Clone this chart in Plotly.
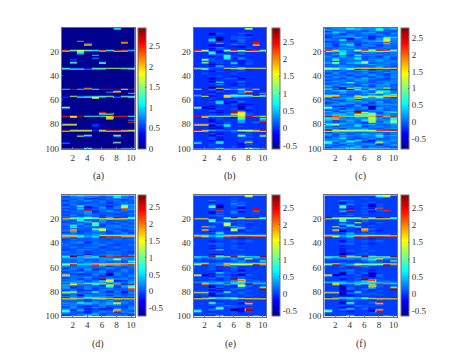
import plotly.graph_objects as go

LEVELS = dict(a=-0.75, b=-0.5, c=-0.3, d=-0.15, e=0.0, f=0.15, g=0.3, h=0.5, i=0.75, j=1.0,
              k=1.25, l=1.5, m=1.75, n=2.0, o=2.25, p=2.5, q=2.75, r=2.95)

panel_a = {
1:"eeeeeeejee", 11:"eeoeeeeeee", 12:"eeeeeeeeoe", 13:"eeehfeeeoe", 14:"eeeoeeeeee",
19:"plmlkpkrpj", 20:"eekeeeeeee", 21:"eejeeeeeee", 22:"eeieeeeeee", 23:"eeeejeeeee", 25:"eeeeieeeee",
26:"ehfeeeeeee", 27:"eheeeeeeee", 29:"eoeeemeeee",
34:"okkioorrpo", 50:"eeeoeeeeee", 51:"jqjikqqrmq", 53:"eeeeeeioee", 54:"eeeeeeeeej",
57:"hrklmoqipn", 58:"eeeemeeeee", 66:"meeeeeeeee", 70:"eeeeeqeeee", 71:"eeeeeoqeee",
73:"pnqkkknppk", 74:"emeeeeneee", 75:"eeeeeeneee", 76:"eeeeeeeeei", 78:"eeeeeeeeep",
80:"nneehfeeee", 81:"eeeehfeeee", 85:"rnnnhnqqon", 89:"eeqleeeneee", 95:"ieeeeeepee",
100:"eeeneeeekk",
}

panel_b = {
1:"eeeeeeekee", 5:"eecfeeffee", 6:"eebeeeecee", 7:"eefeefeeee", 8:"eecceegfee", 9:"eefbefeeee",
10:"eeiaeegeee", 11:"eegeeceeee", 12:"eefeeegepe", 13:"eeeneecepe", 14:"eeceegfeoe", 15:"eedceddeee",
16:"eefgeeceee", 17:"eecfeeefee", 18:"eeeffeceee", 19:"pldekpkrpk", 20:"eeiceefeee", 21:"eejeeefeee",
22:"eehfeegeee", 23:"eeefjeceee", 24:"eedeifeeee", 25:"eefeidgeee", 26:"ekeehegeee", 27:"ejffeecfee",
29:"enefeidfee", 30:"eecdefefee", 31:"eeegeeceee", 32:"eechefeeee", 33:"eeffeegeee",
34:"okeeqonqpp", 36:"eecfeefeee", 38:"efeeefeeee", 40:"eeefeceeee", 42:"eeceffdeee", 44:"eebfeefeee",
45:"eecieegeee", 46:"eefceeceee", 47:"eeegedfeee", 49:"eeacefeeee", 50:"eebmeeffee",
51:"kqgdjhmpmq", 52:"eefeeegeee", 53:"eecfeegoee", 54:"eeeceegeeh", 55:"eefeegeeee",
56:"hrdemkkkrn", 57:"eeeemgfeee", 59:"eefceedeee", 60:"eecfefeeee", 61:"eefhecgeee", 62:"eeeideeeee",
63:"eeefefcdee", 65:"eebeeebeee", 66:"mbeeeeafee", 67:"eecfefceee", 68:"eefdeeedee", 69:"eefeepgeee",
70:"eedceqmeee", 71:"eeeeeolfee", 72:"eefefglfee", 73:"pnikkkmpnl", 74:"emeeedjeee", 75:"eeefeejeei",
76:"eeceeeheeg", 77:"eebeeegeeo", 78:"eedefehegq", 79:"eefceefeee", 80:"nnefhedeee", 81:"eebeiefeee",
82:"eeeceeeeee", 83:"eebceeeeee", 85:"qnhgfgllnq", 86:"eecdefdfee", 87:"eefeeefeee", 88:"eeeceeffee",
89:"eecfeemeen", 90:"eefdeeefee", 92:"eegbeefeee", 93:"eedceeefee", 94:"eeeheeffee", 95:"ieeieedpee",
96:"eefeeecfee", 98:"eefeefdeee", 100:"eeejeeeoie",
}

panel_c = {
1:"effhgffhfg", 2:"gefefefiee", 3:"cfeeedefed", 4:"ehgdefgdee", 5:"ffdeefeedf", 6:"dedfeeefee",
7:"eegfdecdee", 8:"cfeghfdehh", 9:"eedbfecfjf", 10:"feieefefkf", 11:"deedefghke", 12:"ddffdeedof",
13:"feeoedffhe", 14:"edghcfedfe", 15:"fdefeefdee", 16:"eefeefdefe", 17:"defgeedeed",
18:"ffeefegfef", 19:"pmgfkokqoj", 20:"fehedeffee", 21:"dehfegfdef", 22:"egieedefee", 23:"eefdjffeef",
24:"fdgefeedfe", 25:"egefhdeefd", 26:"eheeheffee", 27:"ejefedegfe", 28:"edeefiffef", 29:"gleghkdefe",
30:"dfdefegfee", 31:"fegedfeefe", 32:"deefedeged", 33:"gfgeefefee", 34:"llgkqpqqop",
35:"edeefgdfee", 36:"fefdeefedf", 37:"efdeefdegf", 38:"dfefefeede", 39:"feedfegedf",
40:"eefeddefee", 41:"dgefefdfeg", 42:"fedfegfede", 43:"defegfddef", 44:"egedefefee",
45:"fefiefdegf", 46:"defgedfeef", 47:"efdeegefgd", 48:"gegfdedfee", 49:"edceifefge",
50:"ffbkfgfgjf", 51:"mpccjqmpqq", 52:"eghfggfgge", 53:"fefedfdjhf", 54:"degfefhjfe", 55:"feddeffegj",
56:"hjfegegfhg", 57:"npefnlnlop", 58:"efghlgfgfe", 59:"dfefdeffee", 60:"fdeggefdef",
61:"efdeffegde", 62:"deggefdfee", 63:"egfdedefgf", 64:"fefegcefdf", 65:"edbdfebdfe", 66:"kefeefagee",
67:"ffcfefbfef", 68:"deggedffde", 69:"gdfeqdefgf", 70:"ffdgqlfdgi", 71:"efgfohjdfe", 72:"ghgfhijgff",
73:"qomijkmpmp", 74:"gmfegfjffg", 75:"hnfeffkfeh", 76:"gdfgehjffi", 77:"fedfegjdfl", 78:"edefedkegj",
79:"gfgfedeffh", 80:"ikfegfgeef", 81:"fdefhdefef", 82:"efgeeeffee", 83:"gedfefedfg", 84:"efefggefee",
85:"qllkkkkppq", 86:"dfefeefdee", 87:"efgdefegef", 88:"gdeefgffde", 89:"fegfeffifg", 90:"defeefegee",
91:"eghfdefeef", 92:"fdfbeefdee", 93:"egefhfcfeg", 94:"hfeifbdgfe", 95:"idgeefenfe", 96:"ffdgefgdef",
97:"edeeffedfg", 98:"fefegdefde", 99:"defggefefd", 100:"egeheefgef",
}

panel_d = {
1:"efgffefhfe", 2:"efefeeeiff", 3:"fefddefefe", 4:"eefefdeedf", 5:"dfegefefee", 6:"feedefdefe",
7:"efdffedfee", 8:"dfefeefdhg", 9:"eeiefecfkf", 10:"fefbdgefjf", 11:"deheefefof", 12:"fdfdfeedog",
13:"efeocfgefe", 14:"defgdeffee", 15:"feefeedeef", 16:"dfeffefdee", 17:"efdeedefee",
18:"fefgeefedf", 19:"pmilkpnqok", 20:"eehedfgffe", 21:"feifegdeee", 22:"defhefeeef", 23:"efefjfefee",
24:"fdgdieedfe", 25:"ejefidfgef", 26:"egefeefeee", 27:"ejfeefegfe", 28:"edeejkfdef", 29:"fneefkefde",
30:"egdefedfee", 31:"dfefefeefd", 32:"fedegfdefe", 33:"gggffggggg", 34:"nnighrqqnn", 35:"fefegeffee",
37:"dfeefedfef", 39:"efgdfefeee", 41:"fedefgedef", 43:"efeffdefee", 45:"degfefedfe", 47:"fefdeeffed",
49:"effbefgfef", 50:"gdcmfeffeg", 51:"irhfiqoppq", 52:"ggfhggffgg", 53:"eefdefglfe", 54:"fegfeffeeh",
55:"efeefgdfej", 56:"fefgeeffef", 57:"krhhomnnoq", 58:"gfeeogfgfg", 59:"fegfefdeee", 60:"dfeefegedf",
61:"efegdefefe", 62:"fedfefdefe", 63:"defefgeefe", 64:"efgeefdfee", 65:"fdbefebfee", 66:"meedfeafef",
67:"ffefedfeef", 68:"defgefedfe", 69:"efdedqggfe", 70:"fedfeqmeff", 71:"efgdfhlcdf", 72:"ggfgggggfg",
73:"qmnkkmonqo", 74:"hlfdhfjfee", 75:"feefedjegi", 76:"gdefefgdfj", 77:"feefdeefeo", 78:"efcfefgdeo",
79:"dfecefdfee", 80:"mmegiecfbf", 81:"fefdeffeef", 82:"efcgefefee", 83:"dfbefedfef", 84:"gffgfggfff",
85:"rnojmnoqpq", 86:"efdcefdfee", 87:"fefefegeef", 88:"defdfefefe", 89:"gfihgfglfe", 90:"efefefgfee",
91:"gfeeegcfef", 92:"dfdbeefdde", 93:"egefgfcfeg", 94:"fefcdbdfef", 95:"idgeefenfe", 96:"ifeceffofe",
97:"feddffedfg", 98:"fefegdefde", 99:"defggefefd", 100:"egfjeefgef",
}

panel_e = {
1:"eeeeeeekee", 3:"eeeeefeeee", 5:"eegeefeeee", 6:"eebeeefeee", 7:"eefeeheeee", 8:"eefdeefeee",
9:"eeibefgeee", 10:"eejaeeaeee", 11:"eedeeecepe", 12:"eefeeegepe", 13:"eeeoefdeoe", 14:"eeceegdefe",
15:"eedfefeeee", 17:"eefgeeeeee", 19:"ppcekqmrpk", 20:"eeieefeeee", 21:"eejeedeeee", 22:"eeifeffeee",
23:"eeefjeefee", 24:"eedeleedee", 25:"eefekefeee", 26:"emgeeheeee", 27:"eefeeejefe", 28:"eeeedkfeee",
29:"eoeeekcfee", 30:"eedfeeeeee", 31:"eefieeeeee", 32:"eecheefeee", 33:"gggggggggg", 34:"omgioprqpp",
36:"eeefeedeee", 38:"eedeefefee", 40:"eefgeeceee", 42:"eedfefeeee", 44:"eeceefeeee", 45:"eefieefeee",
49:"eeaceefeee", 50:"eefmefgeee", 51:"ihqikqkiiq", 52:"gfggfgffgg", 53:"eeefegeoee", 54:"eeeeefgeej",
55:"eedeeegeeg", 56:"ggffgggggg", 57:"krfgnlllrn", 58:"eeeonefeee", 59:"eefdegdeee", 61:"eefeefeeee",
62:"eeedeeceee", 64:"eeeifefeee", 65:"eebfefaeee", 66:"mbeeedbfee", 67:"eedgfefeee", 68:"eefdeefeee",
69:"eefefqfeee", 70:"eeddeplfee", 71:"eefefgoefe", 72:"ghghghhggg", 73:"qmhhpinqnh", 74:"eoeehejeee",
75:"eebeedlfee", 76:"eecfeeeeej", 77:"eefbefgeeq", 78:"eebfefdeeq", 79:"eedceeefee", 80:"oofejefeee",
81:"eebfeefeee", 82:"efdeefeeee", 83:"eebceeefee", 85:"qomijkoppq", 86:"eedeefdeee", 88:"eefceefeee",
89:"eejfeecoee", 91:"eefegfefee", 92:"eecgeefdee", 93:"eeejefcfee", 94:"eefieadpee", 95:"iefdeacqee",
96:"ieceefdfee", 98:"eefeefeeee", 100:"eeekeefeie",
}

panel_f = {
1:"eeeeeeeike", 3:"eeeeefeeee", 5:"eegfeeeeee", 6:"eebeeefeee", 7:"eedfefceee", 8:"eefgeedfee",
9:"eejdeeaeee", 10:"eeieefefee", 11:"eefdeecoee", 12:"eebeeegepe", 13:"eehoefcfoe", 14:"eegdeedeee",
15:"eecfefeeee", 17:"eefgeeeeee", 18:"eeddefeeee", 19:"qmlllpmrpk", 20:"eeieefeeee", 21:"eeieefeeee",
22:"eeifefeeee", 23:"eebeleefee", 24:"eeheeedeee", 25:"eeejeefeee", 26:"ekdfjeeeee", 27:"eehefeeeee",
28:"eeeedmfeee", 29:"enceenedee", 30:"eeaeefeeee", 31:"eefgeefeee", 32:"eechefeeee", 33:"ggggggggge",
34:"plgipoqqpp", 36:"eeefeedeee", 38:"eecfefefee", 40:"eefgeeceee", 42:"eedeefeeee", 44:"eeceefeeee",
46:"eecfeefeee", 48:"eebdefeeee", 49:"eeaefeeeee", 50:"eefneegeee", 51:"jiqjkqkjjq", 52:"hghgghgghh",
53:"eeefegioee", 54:"eeeeefgeej", 55:"eedeeeffeg", 56:"eegefeffee", 57:"krfhlkkkrn", 58:"eeeooefeee",
59:"eefdegeeee", 62:"eefgeedeee", 64:"eeafefceee", 65:"eeafefaeee", 66:"mbcefdbfee", 67:"eefeeecfee",
69:"eedefqeeee", 70:"eebeeqnfee", 71:"eefefhoefe", 72:"hihghhhhgg", 73:"qmhhnjnoni", 74:"emeehejeee",
75:"eebeeenfee", 76:"eecfeegeej", 77:"eeafefgeeq", 78:"eebfefceeq", 79:"eedceeefee", 80:"ooceieeeee",
81:"eecfeefeee", 82:"eebdefefee", 83:"eedceeeeee", 85:"qoiihkoppq", 86:"eedfeedfee", 88:"eecfeefeee",
89:"eecjeefoee", 91:"eefegfefee", 92:"eedceefdee", 93:"eecfefcfee", 94:"eefhefeeee", 95:"jefdeecpee",
96:"jebceedpee", 97:"eefeeefeee", 100:"eegmeefeie",
}

panels = [panel_a, panel_b, panel_c, panel_d, panel_e, panel_f]
letters = ["(a)", "(b)", "(c)", "(d)", "(e)", "(f)"]
z_ranges = [(0, 2.95), (-0.6, 2.9), (-0.8, 2.8), (-0.75, 2.85), (-0.65, 2.85), (-0.65, 2.85)]
cb_ticks = [[0, 0.5, 1, 1.5, 2, 2.5], [-0.5, 0, 0.5, 1, 1.5, 2, 2.5], [-0.5, 0, 0.5, 1, 1.5, 2, 2.5],
            [-0.5, 0, 0.5, 1, 1.5, 2, 2.5], [-0.5, 0, 0.5, 1, 1.5, 2, 2.5], [-0.5, 0, 0.5, 1, 1.5, 2, 2.5]]
x_ticks = [2, 4, 6, 8, 10]
y_ticks = [20, 40, 60, 80, 100]

PAGE_OFFSET = 8
W, H = 469 - PAGE_OFFSET, 359 - PAGE_OFFSET
ax_left = [54, 186, 317]
ax_w = 73
cb_left = [130, 265, 394]
cb_w = 8
row_top = [20, 190]
ax_h = 123

JET = [[0, "rgb(0,0,143)"], [0.125, "rgb(0,0,255)"], [0.375, "rgb(0,255,255)"],
       [0.625, "rgb(255,255,0)"], [0.875, "rgb(255,0,0)"], [1, "rgb(128,0,0)"]]
FONT = dict(family="Liberation Serif", size=9, color="#333333")
FRAME = "#707070"

def build_z(panel, n_rows=100, n_cols=10):
    z = []
    for r in range(1, n_rows + 1):
        row = panel.get(r, "e" * n_cols)
        row = row.ljust(n_cols, "e")[:n_cols]
        vals = []
        for c in row:
            vals += [LEVELS[c], LEVELS[c]]
        z.append(vals)
    return z

x_edges = []
for col in range(1, 11):
    x_edges += [col - 0.42, col + 0.42]

fig = go.Figure()
layout = {}
annotations = []
for i, panel in enumerate(panels):
    c, r = i % 3, i // 3
    n = "" if i == 0 else str(i + 1)
    x0 = ax_left[c] / W
    x1 = (ax_left[c] + ax_w) / W
    y1 = 1 - row_top[r] / H
    y0 = 1 - (row_top[r] + ax_h) / H
    layout["xaxis" + n] = dict(domain=[x0, x1], range=[0.5, 10.5], tickvals=x_ticks, ticks="inside", ticklen=1.5,
                               tickcolor=FRAME, showline=True, mirror=True, linecolor=FRAME, linewidth=1,
                               showgrid=False, zeroline=False, tickfont=FONT, anchor="y" + n)
    layout["yaxis" + n] = dict(domain=[y0, y1], range=[100.5, 0.5], tickvals=y_ticks, ticks="inside", ticklen=1.5,
                               tickcolor=FRAME, showline=True, mirror=True, linecolor=FRAME, linewidth=1,
                               showgrid=False, zeroline=False, tickfont=FONT, anchor="x" + n)
    zmin, zmax = z_ranges[i]
    fig.add_trace(go.Heatmap(
        z=build_z(panel), x=x_edges, y=list(range(1, 101)), zsmooth="best",
        colorscale=JET, zmin=zmin, zmax=zmax, xaxis="x" + n, yaxis="y" + n,
        hoverinfo="skip",
        colorbar=dict(x=cb_left[c] / W, xanchor="left", xpad=0, ypad=0, y=(y0 + y1) / 2, yanchor="middle",
                      len=y1 - y0, lenmode="fraction", thickness=cb_w, thicknessmode="pixels",
                      tickvals=cb_ticks[i], ticktext=[f"{t:g}" for t in cb_ticks[i]],
                      ticks="inside", ticklen=1.5, tickcolor="#555555", tickfont=FONT,
                      outlinecolor=FRAME, outlinewidth=1, borderwidth=0),
    ))
    annotations.append(dict(text=letters[i], x=(x0 + x1) / 2, y=y0 - 0.056, xref="paper", yref="paper",
                            showarrow=False, xanchor="center", yanchor="top",
                            font=dict(family="Liberation Serif", size=10, color="#333333")))

fig.update_layout(width=W, height=H, margin=dict(l=0, r=0, t=0, b=0), paper_bgcolor="white",
                  plot_bgcolor="white", showlegend=False, annotations=annotations, **layout)
fig.write_html("out.html", config=dict(displayModeBar=False))
